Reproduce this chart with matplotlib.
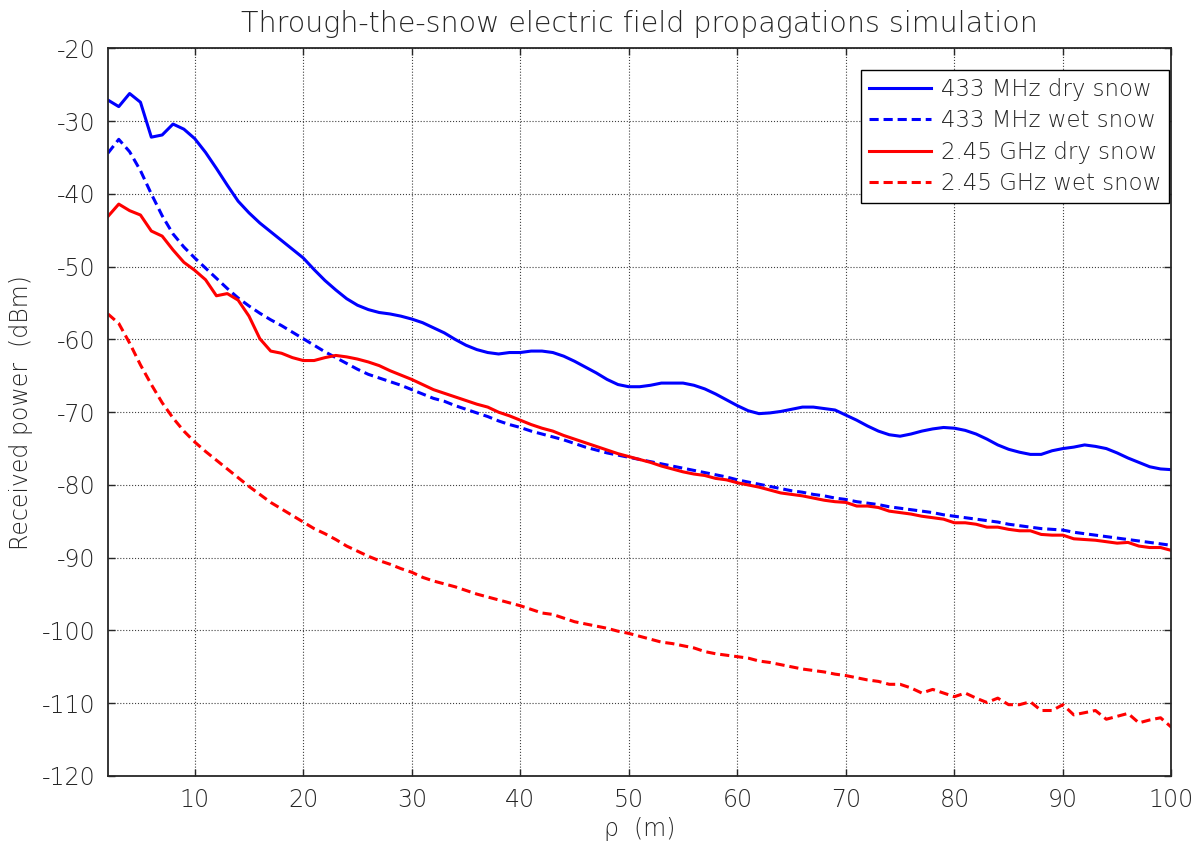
import matplotlib
matplotlib.use("Agg")
import matplotlib.pyplot as plt
import numpy as np

plt.rcParams['font.family'] = ['DejaVu Sans']
plt.rcParams['font.weight'] = 200
plt.rcParams['axes.titleweight'] = 200
plt.rcParams['axes.labelweight'] = 200

# distance rho (m)
rho = np.arange(2, 101)

dry_433 = [-27.1, -28.0, -26.2, -27.4, -32.2, -31.9, -30.4, -31.1, -32.4, -34.3,
           -36.5, -38.8, -41.0, -42.6, -44.0, -45.2, -46.4, -47.6, -48.8, -50.4,
           -51.9, -53.2, -54.4, -55.3, -55.9, -56.3, -56.5, -56.8, -57.2, -57.7,
           -58.4, -59.1, -60.0, -60.8, -61.4, -61.8, -62.0, -61.8, -61.8, -61.6,
           -61.6, -61.8, -62.3, -63.0, -63.8, -64.6, -65.5, -66.2, -66.5, -66.5,
           -66.3, -66.0, -66.0, -66.0, -66.3, -66.8, -67.5, -68.3, -69.1, -69.8,
           -70.2, -70.1, -69.9, -69.6, -69.3, -69.3, -69.5, -69.7, -70.4, -71.1,
           -71.9, -72.6, -73.1, -73.3, -73.0, -72.6, -72.3, -72.1, -72.2, -72.5,
           -73.0, -73.7, -74.5, -75.1, -75.5, -75.8, -75.8, -75.3, -75.0, -74.8,
           -74.5, -74.7, -75.0, -75.6, -76.3, -76.9, -77.5, -77.8, -77.9]

wet_433 = [-34.4, -32.5, -34.2, -36.8, -40.0, -43.0, -45.5, -47.3, -48.8, -50.2,
           -51.6, -53.0, -54.3, -55.4, -56.4, -57.3, -58.1, -59.0, -59.9, -60.8,
           -61.7, -62.5, -63.3, -64.1, -64.8, -65.3, -65.8, -66.3, -66.9, -67.5,
           -68.1, -68.5, -69.1, -69.6, -70.1, -70.6, -71.2, -71.7, -72.1, -72.6,
           -73.0, -73.4, -73.8, -74.3, -74.8, -75.2, -75.6, -75.9, -76.2, -76.5,
           -76.8, -77.1, -77.4, -77.7, -78.0, -78.3, -78.6, -78.9, -79.3, -79.6,
           -79.9, -80.2, -80.5, -80.8, -81.0, -81.3, -81.5, -81.8, -82.0, -82.3,
           -82.5, -82.7, -83.0, -83.2, -83.4, -83.6, -83.8, -84.1, -84.3, -84.5,
           -84.7, -84.9, -85.1, -85.4, -85.6, -85.8, -86.0, -86.1, -86.2, -86.5,
           -86.7, -86.9, -87.1, -87.3, -87.5, -87.7, -87.9, -88.1, -88.3]

dry_245 = [-43.1, -41.4, -42.3, -42.9, -45.1, -45.8, -47.7, -49.4, -50.5, -51.8,
           -54.0, -53.7, -54.6, -56.8, -59.9, -61.6, -61.9, -62.5, -62.9, -62.9,
           -62.5, -62.2, -62.4, -62.7, -63.1, -63.6, -64.3, -64.9, -65.5, -66.2,
           -66.9, -67.4, -67.9, -68.4, -68.9, -69.3, -70.0, -70.5, -71.1, -71.7,
           -72.2, -72.6, -73.2, -73.7, -74.2, -74.7, -75.2, -75.7, -76.1, -76.5,
           -76.9, -77.4, -77.8, -78.2, -78.5, -78.7, -79.1, -79.3, -79.7, -80.0,
           -80.3, -80.7, -81.1, -81.3, -81.5, -81.8, -82.1, -82.3, -82.4, -82.9,
           -82.9, -83.1, -83.6, -83.8, -84.0, -84.3, -84.5, -84.7, -85.2, -85.2,
           -85.4, -85.8, -85.8, -86.1, -86.3, -86.3, -86.8, -86.9, -86.9, -87.4,
           -87.5, -87.6, -87.8, -88.0, -87.9, -88.4, -88.6, -88.6, -89.0]

wet_245 = [-56.5, -57.8, -60.5, -63.5, -66.2, -68.7, -70.8, -72.6, -74.1, -75.4,
           -76.6, -77.8, -79.0, -80.2, -81.3, -82.4, -83.3, -84.2, -85.1, -86.0,
           -86.7, -87.5, -88.4, -89.1, -89.8, -90.4, -90.9, -91.5, -92.0, -92.7,
           -93.2, -93.6, -94.0, -94.5, -95.0, -95.4, -95.8, -96.2, -96.6, -97.1,
           -97.6, -97.8, -98.3, -98.8, -99.1, -99.4, -99.7, -100.1, -100.4, -100.8,
           -101.2, -101.6, -101.8, -102.1, -102.4, -102.9, -103.2, -103.4, -103.6, -103.8,
           -104.2, -104.4, -104.7, -105.0, -105.3, -105.5, -105.7, -106.0, -106.2, -106.5,
           -106.8, -107.0, -107.4, -107.4, -107.9, -108.6, -108.1, -108.6, -109.1, -108.6,
           -109.3, -109.9, -109.3, -110.2, -110.2, -109.8, -111.0, -111.0, -110.2, -111.6,
           -111.3, -111.0, -112.2, -111.8, -111.4, -112.7, -112.3, -112.0, -113.3]

labels = ["433 MHz dry snow", "433 MHz wet snow", "2.45 GHz dry snow", "2.45 GHz wet snow"]
xticks = np.arange(10, 101, 10)
yticks = np.arange(-120, -19, 10)
ytick_labels = [str(v) for v in yticks]

fig = plt.figure(figsize=(11.99, 8.49), dpi=100)
ax = fig.add_axes([0.090, 0.086, 0.887, 0.857])

ax.plot(rho, dry_433, color='blue', lw=2.2, label=labels[0])
ax.plot(rho, wet_433, color='blue', lw=2.2, ls=(0, (3, 1.6)), label=labels[1])
ax.plot(rho, dry_245, color='red', lw=2.2, label=labels[2])
ax.plot(rho, wet_245, color='red', lw=2.2, ls=(0, (3, 1.6)), label=labels[3])

ax.set_xlim(2, 100)
ax.set_ylim(-120, -20)
ax.set_xticks(xticks)
ax.set_yticks(yticks, ytick_labels)
ax.grid(True, ls=':', lw=0.8, color='0.25')
ax.tick_params(direction='in', top=True, right=True, length=5, width=1,
               labelsize=17, color='#262626', labelcolor='#262626', pad=9)
for s in ax.spines.values():
    s.set_linewidth(1.3)
    s.set_color('#262626')

ax.set_title("Through-the-snow electric field propagations simulation",
             fontsize=20.5, color='#262626', pad=12)
ax.set_xlabel("ρ  (m)", fontsize=17, color='#262626', labelpad=3)
ax.set_ylabel("Received power  (dBm)", fontsize=17, color='#262626', labelpad=6)

leg = ax.legend(loc='upper right', bbox_to_anchor=(0.998, 0.970), borderaxespad=0,
                fontsize=16.5, fancybox=False, framealpha=1, edgecolor='black',
                handlelength=2.7, handletextpad=0.45, labelspacing=0.36,
                borderpad=0.35)
leg.get_frame().set_linewidth(1.0)
for t in leg.get_texts():
    t.set_color('#262626')

fig.savefig("out.png", dpi=100)
